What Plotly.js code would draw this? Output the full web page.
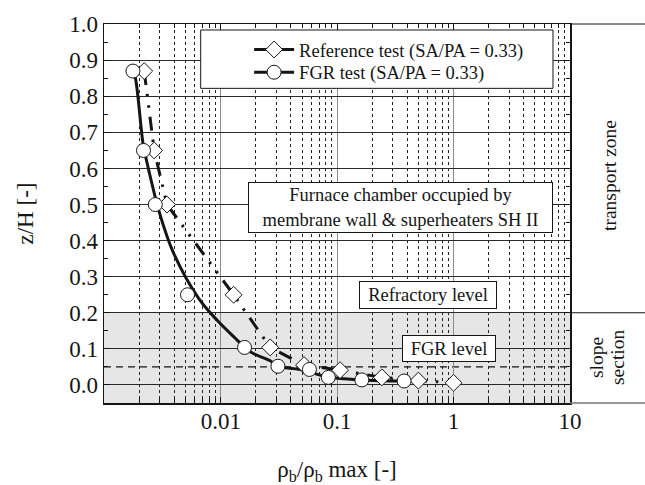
<!DOCTYPE html>
<html>
<head>
<meta charset="utf-8">
<script src="https://cdn.plot.ly/plotly-3.0.1.min.js"></script>
<style>
html,body{margin:0;padding:0;background:#fff;}
#chart{width:645px;height:485px;}
</style>
</head>
<body>
<div id="chart"></div>
<script>
const refX = [0.0022, 0.00268, 0.00345, 0.0129, 0.0266, 0.052, 0.106, 0.242, 0.499, 1.0];
const refY = [0.87, 0.65, 0.50, 0.25, 0.104, 0.055, 0.041, 0.021, 0.012, 0.006];
const fgrX = [0.00176, 0.00217, 0.00274, 0.00518, 0.016, 0.031, 0.0578, 0.084, 0.163, 0.376];
const fgrY = [0.87, 0.65, 0.50, 0.25, 0.104, 0.052, 0.043, 0.021, 0.014, 0.011];
// Fitted curve through FGR test
const fgrFitX = [0.00176, 0.00185, 0.00215, 0.0023, 0.00299, 0.00394, 0.00646, 0.00927, 0.0129, 0.0179, 0.0266, 0.031, 0.048, 0.084, 0.163, 0.376];
const fgrFitY = [0.87, 0.85, 0.669, 0.623, 0.475, 0.365, 0.24, 0.18, 0.134, 0.092, 0.067, 0.052, 0.043, 0.022, 0.014, 0.011];
// Tick labels
const xTickVals = [0.01, 0.1, 1, 10];
const xTickText = ['0.01', '0.1', '1', '10'];
const xMinorVals = [0.002,0.003,0.004,0.005,0.006,0.007,0.008,0.009,
                    0.02,0.03,0.04,0.05,0.06,0.07,0.08,0.09,
                    0.2,0.3,0.4,0.5,0.6,0.7,0.8,0.9,
                    2,3,4,5,6,7,8,9];
const yTickVals = [0.0,0.1,0.2,0.3,0.4,0.5,0.6,0.7,0.8,0.9,1.0];
const yTickText = ['0.0','0.1','0.2','0.3','0.4','0.5','0.6','0.7','0.8','0.9','1.0'];
const legendNames = ['Reference test (SA/PA = 0.33)', 'FGR test (SA/PA = 0.33)'];

const INK = '#151515';
const FONT = '"Liberation Serif", "Times New Roman", serif';

const traces = [
  {x: fgrFitX, y: fgrFitY, mode: 'lines', line: {color: INK, width: 3, shape: 'spline', smoothing: 1}, showlegend: false, hoverinfo: 'skip'},
  {x: refX, y: refY, mode: 'lines', line: {color: INK, width: 3, dash: '14px,9px,2.5px,9px,2.5px,9px'}, showlegend: false, hoverinfo: 'skip'},
  {x: refX, y: refY, mode: 'markers', marker: {symbol: 'diamond', size: 13, color: '#fff', line: {color: INK, width: 1}}, showlegend: false},
  {x: fgrX, y: fgrY, mode: 'markers', marker: {symbol: 'circle', size: 14, color: '#fff', line: {color: INK, width: 1}}, showlegend: false},
  {x: [null], y: [null], name: legendNames[0], legend: 'legend', mode: 'lines+markers', line: {color: INK, width: 3}, marker: {symbol: 'diamond', size: 13, color: '#fff', line: {color: INK, width: 1}}},
  {x: [null], y: [null], name: legendNames[1], legend: 'legend2', mode: 'lines+markers', line: {color: INK, width: 3}, marker: {symbol: 'circle', size: 14, color: '#fff', line: {color: INK, width: 1}}}
];

function annBox(text, x, y, w, h) {
  return {text: text, xref: 'paper', yref: 'paper', x: x, y: y, xanchor: 'center', yanchor: 'middle',
          showarrow: false, bgcolor: '#fff', bordercolor: INK, borderwidth: 1, borderpad: 1,
          width: w, height: h, font: {family: FONT, size: 18.5, color: INK}};
}
function sideText(text, xpx, ypx) {
  return {text: text, xref: 'paper', yref: 'paper', x: (xpx - 104) / 466, y: (403 - ypx) / 379,
          xanchor: 'center', yanchor: 'middle', textangle: -90, showarrow: false,
          font: {family: FONT, size: 19.5, color: INK}};
}
function legendAt(ypx) {
  return {x: 0.3114, y: (403 - ypx) / 379, xanchor: 'left', yanchor: 'middle',
          bgcolor: 'rgba(0,0,0,0)', borderwidth: 0, itemwidth: 40,
          font: {family: FONT, size: 18.5, color: INK}};
}

const layout = {
  width: 645, height: 485,
  margin: {l: 104, r: 75, t: 24, b: 82},
  paper_bgcolor: '#fff', plot_bgcolor: '#fff',
  font: {family: FONT, color: INK, size: 18},
  xaxis: {
    type: 'log', range: [-3.003, 1.0005],
    tickmode: 'array', tickvals: xTickVals, ticktext: xTickText,
    ticks: 'inside', ticklen: 6, tickcolor: INK, mirror: 'allticks',
    showline: true, linecolor: INK, linewidth: 1.5,
    showgrid: true, gridcolor: '#8c8c8c', gridwidth: 1, zeroline: false,
    tickfont: {family: FONT, size: 23, color: INK}, ticklabelstandoff: -3,
    minor: {tickmode: 'array', tickvals: xMinorVals, ticks: 'inside', ticklen: 4, tickcolor: INK,
            showgrid: true, griddash: 'dot', gridcolor: '#222', gridwidth: 1},
    title: {text: 'ρ<sub>b</sub>/ρ<sub>b</sub> max [-]', font: {family: FONT, size: 23, color: INK}, standoff: 28}
  },
  yaxis: {
    range: [-0.05, 1.0005],
    tickmode: 'array', tickvals: yTickVals, ticktext: yTickText,
    ticks: 'inside', ticklen: 6, tickcolor: INK, mirror: 'allticks',
    showline: true, linecolor: INK, linewidth: 1.5,
    showgrid: true, gridcolor: '#2a2a2a', gridwidth: 1, zeroline: false,
    tickfont: {family: FONT, size: 23, color: INK}, ticklabelstandoff: 0,
    minor: {dtick: 0.05, ticks: 'inside', ticklen: 4, tickcolor: INK, showgrid: false},
    title: {text: 'z/H [-]', font: {family: FONT, size: 23, color: INK}, standoff: 29}
  },
  legend: legendAt(50),
  legend2: legendAt(72.7),
  shapes: [
    {type: 'rect', xref: 'paper', yref: 'y', x0: 0, x1: 1, y0: -0.05, y1: 0.2, fillcolor: '#e6e6e6', line: {width: 0}, layer: 'below'},
    {type: 'line', xref: 'paper', yref: 'y', x0: 0, x1: 1, y0: 0.05, y1: 0.05, line: {color: INK, width: 1.3, dash: '7px,5px'}, layer: 'between'},
    {type: 'line', xref: 'paper', yref: 'paper', x0: 1, x1: 1.161, y0: 1, y1: 1, line: {color: INK, width: 1}},
    {type: 'line', xref: 'paper', yref: 'paper', x0: 1, x1: 1.161, y0: 0.2381, y1: 0.2381, line: {color: INK, width: 1}},
    {type: 'line', xref: 'paper', yref: 'paper', x0: 1, x1: 1.161, y0: 0, y1: 0, line: {color: '#777', width: 1.5}},
    {type: 'rect', xref: 'paper', yref: 'paper', x0: 0.2075, x1: 0.9635, y0: 0.9842, y1: 0.8302, fillcolor: '#fff', line: {color: INK, width: 1}, layer: 'above'}
  ],
  annotations: [
    annBox('Furnace chamber occupied by<br>membrane wall & superheaters SH II', 0.636, 0.516, 301, 47),
    annBox('Refractory level', 0.695, 0.284, 134, 24),
    annBox('FGR level', 0.740, 0.144, 90, 23),
    sideText('transport zone', 609, 176),
    sideText('slope', 596, 358),
    sideText('section', 617, 358)
  ],
  showlegend: true
};

Plotly.newPlot('chart', traces, layout, {displayModeBar: false, staticPlot: true});
</script>
</body>
</html>
